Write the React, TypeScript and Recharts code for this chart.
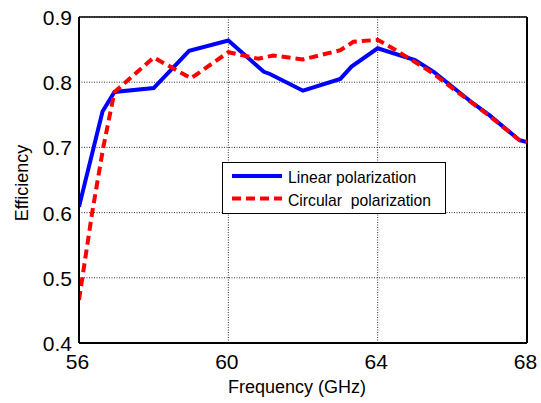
import { CartesianGrid, Label, Legend, Line, LineChart, ReferenceLine, XAxis, YAxis } from "recharts";

const frequencyLinear = [56, 56.63, 56.95, 58, 58.95, 60, 60.95, 61.1, 62, 63, 63.3, 64, 65, 65.5, 66.5, 67, 67.8, 68];
const linearEfficiency = [0.609, 0.755, 0.785, 0.791, 0.848, 0.864, 0.816, 0.813, 0.787, 0.805, 0.824, 0.852, 0.834, 0.816, 0.77, 0.749, 0.711, 0.708];

const frequencyCircular = [56, 56.35, 56.65, 56.95, 58, 59, 60, 60.8, 61.2, 62, 63, 63.35, 64, 64.4, 65, 65.5, 66, 67, 67.8, 68];
const circularEfficiency = [0.466, 0.599, 0.7, 0.785, 0.838, 0.806, 0.846, 0.836, 0.841, 0.835, 0.849, 0.862, 0.865, 0.852, 0.831, 0.813, 0.791, 0.748, 0.711, 0.709];

const xTicks = [56, 60, 64, 68];
const yTicks = [0.4, 0.5, 0.6, 0.7, 0.8, 0.9];

const seriesNames = ["Linear polarization", "Circular  polarization"];

const FONT = '"Liberation Sans", Arial, sans-serif';

const linearData = frequencyLinear.map((f, i) => ({ f, v: linearEfficiency[i] }));
const circularData = frequencyCircular.map((f, i) => ({ f, v: circularEfficiency[i] }));

function XTick(props: any) {
  const { x, y, payload } = props;
  return (
    <text x={x - 1.5} y={y + 26} textAnchor="middle" fontFamily={FONT} fontSize={21} fill="#000">
      {payload.value}
    </text>
  );
}

function YTick(props: any) {
  const { x, y, payload } = props;
  return (
    <text x={x - 7} y={y + 8} textAnchor="end" fontFamily={FONT} fontSize={21} fill="#000">
      {Number(payload.value).toFixed(1)}
    </text>
  );
}

function LegendBox() {
  return (
    <svg width={225} height={53} style={{ display: "block" }}>
      <rect x={0.5} y={0.5} width={223} height={51} fill="#fff" stroke="#000" strokeWidth={1} />
      <line x1={10} y1={14} x2={60} y2={14} stroke="#0000ff" strokeWidth={4} />
      <text x={66} y={21} fontFamily={FONT} fontSize={15.7} fill="#000" style={{ whiteSpace: "pre" }}>
        {seriesNames[0]}
      </text>
      <line x1={10} y1={36.5} x2={60} y2={36.5} stroke="#ff0000" strokeWidth={4} strokeDasharray="9 5" />
      <text x={66} y={43.5} fontFamily={FONT} fontSize={15.7} fill="#000" style={{ whiteSpace: "pre" }}>
        {seriesNames[1]}
      </text>
    </svg>
  );
}

export default function App() {
  return (
    <div style={{ position: "absolute", left: 0, top: 0, width: 541, height: 403, background: "#fff" }}>
      <LineChart width={541} height={403} margin={{ top: 17, right: 14, left: 0, bottom: 0 }}>
        <CartesianGrid stroke="#333" strokeDasharray="1 1.5" strokeWidth={1} />
        <XAxis
          type="number"
          dataKey="f"
          domain={[56, 68]}
          ticks={xTicks}
          allowDataOverflow
          height={60}
          tickSize={0}
          tickMargin={0}
          tickLine={false}
          tick={<XTick />}
          axisLine={{ stroke: "#000", strokeWidth: 2 }}
        >
          <Label
            content={() => (
              <text x={297} y={393} textAnchor="middle" fontFamily={FONT} fontSize={18} fill="#000">
                Frequency (GHz)
              </text>
            )}
          />
        </XAxis>
        <YAxis
          type="number"
          domain={[0.4, 0.9]}
          ticks={yTicks}
          allowDataOverflow
          width={79}
          tickSize={0}
          tickMargin={0}
          tickLine={false}
          tick={<YTick />}
          axisLine={{ stroke: "#000", strokeWidth: 2 }}
        >
          <Label
            content={() => (
              <text transform="translate(28,183) rotate(-90)" textAnchor="middle" fontFamily={FONT} fontSize={18} fill="#000">
                Efficiency
              </text>
            )}
          />
        </YAxis>
        <ReferenceLine y={0.9} stroke="#000" strokeWidth={1.5} />
        <ReferenceLine x={68} stroke="#000" strokeWidth={2} />
        <Line
          data={linearData}
          dataKey="v"
          type="linear"
          stroke="#0000ff"
          strokeWidth={4}
          dot={false}
          isAnimationActive={false}
        />
        <Line
          data={circularData}
          dataKey="v"
          type="linear"
          stroke="#ff0000"
          strokeWidth={4}
          strokeDasharray="9 5"
          dot={false}
          isAnimationActive={false}
        />
        <Legend
          layout="vertical"
          verticalAlign="middle"
          align="center"
          content={() => <LegendBox />}
          wrapperStyle={{ left: 222, top: 162, width: 225, height: 53 }}
        />
      </LineChart>
    </div>
  );
}
